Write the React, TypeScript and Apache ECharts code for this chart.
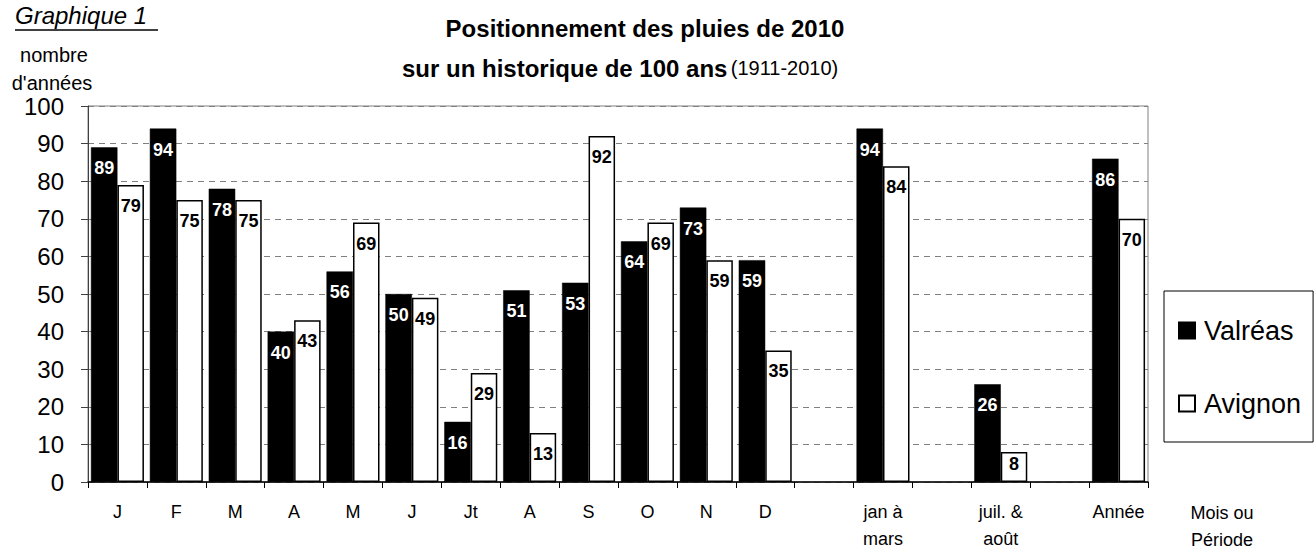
import React, { useEffect, useRef } from "react";
import * as echarts from "echarts";

const categories = ["J", "F", "M", "A", "M", "J", "Jt", "A", "S", "O", "N", "D", "", "jan à\nmars", "", "juil. &\naoût", "", "Année"];
const valreas = [89, 94, 78, 40, 56, 50, 16, 51, 53, 64, 73, 59, null, 94, null, 26, null, 86];
const avignon = [79, 75, 75, 43, 69, 49, 29, 13, 92, 69, 59, 35, null, 84, null, 8, null, 70];
const yTicks = { min: 0, max: 100, interval: 10 };

const FONT = "Arial, 'Liberation Sans', sans-serif";

function mk(vals: (number | null)[]) {
  return vals.map((v) => (v !== null && v < 12 ? { value: v, label: { distance: 3 } } : v));
}

export default function App() {
  const ref = useRef<HTMLDivElement>(null);
  useEffect(() => {
    if (!ref.current) return;
    const chart = echarts.init(ref.current, null, { renderer: "svg" });
    const labelBase = {
      show: true,
      position: "insideTop",
      distance: 12,
      fontFamily: FONT,
      fontWeight: "bold",
      fontSize: 18,
    };
    chart.setOption({
      animation: false,
      backgroundColor: "#ffffff",
      textStyle: { fontFamily: FONT },
      grid: {
        left: 88,
        right: 168,
        top: 106,
        bottom: 64,
        show: true,
        borderColor: "#808080",
        borderWidth: 1,
      },
      legend: {
        orient: "vertical",
        left: 1164,
        top: 291,
        padding: [26, 12, 25, 14],
        itemGap: 46,
        itemWidth: 16,
        itemHeight: 16,
        borderColor: "#000",
        borderWidth: 1,
        icon: "rect",
        textStyle: { fontSize: 27, color: "#000", fontFamily: FONT, padding: [0, 0, 0, 4] },
        data: ["Valréas", "Avignon"],
      },
      xAxis: {
        type: "category",
        data: categories,
        boundaryGap: true,
        axisLine: { lineStyle: { color: "#000", width: 1.5 } },
        axisTick: { show: true, length: 6, lineStyle: { color: "#000" } },
        axisLabel: {
          interval: 0,
          fontSize: 18,
          color: "#000",
          margin: 16,
          lineHeight: 27,
          fontFamily: FONT,
        },
      },
      yAxis: {
        type: "value",
        min: yTicks.min,
        max: yTicks.max,
        interval: yTicks.interval,
        axisLine: { show: true, lineStyle: { color: "#404040", width: 1 } },
        axisTick: { show: true, length: 7, lineStyle: { color: "#404040" } },
        axisLabel: { fontSize: 24, color: "#000", margin: 24, fontFamily: FONT },
        splitLine: { show: true, lineStyle: { color: "#808080", type: [6, 5], width: 1 } },
      },
      series: [
        {
          name: "Valréas",
          type: "bar",
          data: mk(valreas),
          barGap: "0%",
          barCategoryGap: "10%",
          itemStyle: { color: "#000", borderColor: "#000", borderWidth: 0.5 },
          label: { ...labelBase, color: "#fff" },
        },
        {
          name: "Avignon",
          type: "bar",
          data: mk(avignon),
          barGap: "0%",
          barCategoryGap: "10%",
          itemStyle: { color: "#fff", borderColor: "#000", borderWidth: 1.5 },
          label: { ...labelBase, color: "#000" },
        },
      ],
      graphic: [
        {
          type: "text",
          left: 15,
          top: 3,
          style: { text: "Graphique 1", fontSize: 24, fontStyle: "italic", fill: "#000", fontFamily: FONT },
        },
        {
          type: "line",
          shape: { x1: 15, y1: 30, x2: 158, y2: 30 },
          style: { stroke: "#000", lineWidth: 1.5 },
        },
        {
          type: "text",
          x: 54,
          y: 55,
          style: { text: "nombre", fontSize: 20, fill: "#000", align: "center", verticalAlign: "middle", fontFamily: FONT },
        },
        {
          type: "text",
          x: 52,
          y: 83,
          style: { text: "d'années", fontSize: 20, fill: "#000", align: "center", verticalAlign: "middle", fontFamily: FONT },
        },
        {
          type: "text",
          x: 645,
          y: 28,
          style: {
            text: "Positionnement des pluies de 2010",
            fontSize: 24,
            fontWeight: "bold",
            fill: "#000",
            align: "center",
            verticalAlign: "middle",
            fontFamily: FONT,
          },
        },
        {
          type: "text",
          x: 402,
          y: 68,
          style: {
            text: "{b|sur un historique de 100 ans} {n|(1911-2010)}",
            verticalAlign: "middle",
            rich: {
              b: { fontSize: 24, fontWeight: "bold", fill: "#000", fontFamily: FONT },
              n: { fontSize: 20, fill: "#000", fontFamily: FONT },
            },
          },
        },
        {
          type: "text",
          x: 1222,
          y: 499,
          style: {
            text: "Mois ou\nPériode",
            fontSize: 18,
            lineHeight: 27,
            fill: "#000",
            align: "center",
            verticalAlign: "top",
            fontFamily: FONT,
          },
        },
      ],
    });
    return () => chart.dispose();
  }, []);
  return <div ref={ref} style={{ position: "absolute", left: 0, top: 0, width: 1316, height: 552 }} />;
}
